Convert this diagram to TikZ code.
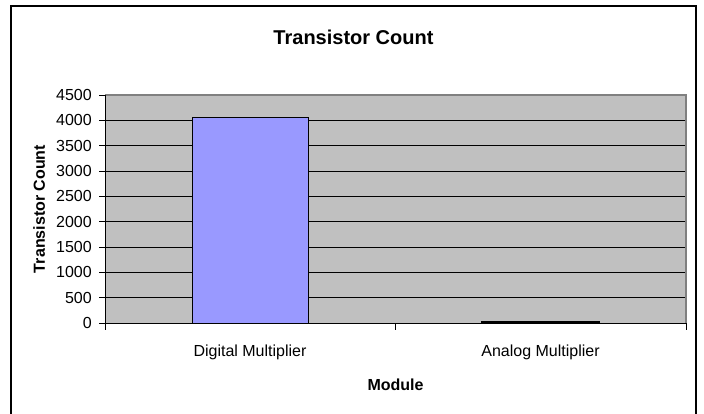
\documentclass[tikz,border=0pt]{standalone}
\usepackage{fontspec}
\setmainfont{Liberation Sans}
\usetikzlibrary{positioning}
\definecolor{plotgray}{RGB}{192,192,192}
\definecolor{barblue}{RGB}{153,153,255}
\definecolor{edgegray}{RGB}{128,128,128}

\begin{document}
\begin{tikzpicture}[x=0.75pt,y=-0.75pt,
	ticklabel/.style={anchor=east,inner sep=0pt,font=\fontsize{12}{14}\selectfont},
	catlabel/.style={anchor=base,inner sep=0pt,font=\fontsize{12}{14}\selectfont},
	axistitle/.style={anchor=base,inner sep=0pt,font=\fontsize{12}{14}\selectfont\bfseries},
	countbar/.style={draw=black,fill=barblue,line width=0.6pt}]
	\useasboundingbox (0,0) rectangle (704,414);
	% chart frame
	\draw[line width=1.5pt] (11,6) rectangle (696,418);
	\node[anchor=base,inner sep=0pt,font=\fontsize{15}{18}\selectfont\bfseries] (title) at (353.5,45) {Transistor Count};
	% plot area
	\fill[plotgray] (105,95) rectangle (686,323);
	\foreach \v in {500,1000,...,4000}
	{
		\draw[line width=0.75pt] (105,323-\v/4500*228) -- (686,323-\v/4500*228);
	}
	\draw[edgegray,line width=1.5pt] (105,95) -- (686,95) -- (686,323);
	\draw[line width=0.75pt] (105,95) -- (105,323) -- (686,323);
	% y ticks
	\foreach \v in {0,500,...,4500}
	{
		\draw[line width=0.75pt] (99,323-\v/4500*228) -- (105,323-\v/4500*228);
		\node[ticklabel] (tick\v) at (92,323-\v/4500*228) {\v};
	}
	% x ticks
	\foreach \x in {105,395.5,686}
		\draw[line width=0.75pt] (\x,323) -- (\x,330);
	% bars
	\draw[countbar] (192,323) rectangle (308,323-4050/4500*228);
	\draw[countbar,line width=1.5pt] (482,323) rectangle (599,322);
	% labels
	\node[catlabel] (digital) at (250,356) {Digital Multiplier};
	\node[catlabel] (analog) at (540.5,356) {Analog Multiplier};
	\node[axistitle] (xtitle) at (395.5,390) {Module};
	\node[axistitle,rotate=90] (ytitle) at (45,209) {Transistor Count};
\end{tikzpicture}
\end{document}
